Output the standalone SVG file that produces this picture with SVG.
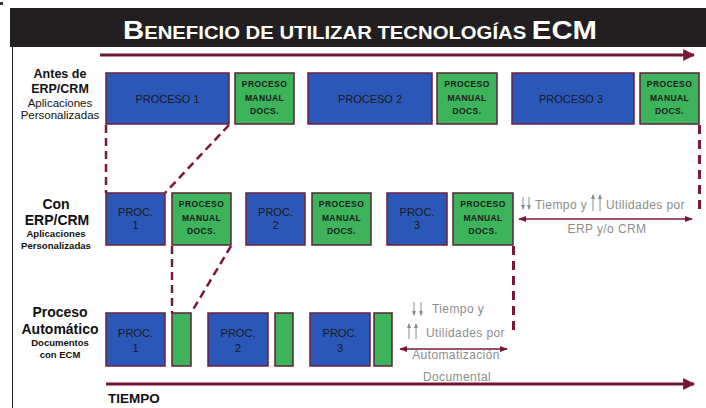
<svg xmlns="http://www.w3.org/2000/svg" width="706" height="408" viewBox="0 0 706 408">
<defs>
<marker id="ah" viewBox="0 0 10 10" refX="9" refY="5" markerWidth="4" markerHeight="4" orient="auto-start-reverse"><path d="M0,0 L10,5 L0,10 z" fill="#7a1838"/></marker>
<marker id="ahs" viewBox="0 0 10 10" refX="9" refY="5" markerWidth="5" markerHeight="5" orient="auto-start-reverse"><path d="M0,1 L10,5 L0,9 z" fill="#7a1838"/></marker>
<marker id="ga" viewBox="0 0 10 10" refX="8" refY="5" markerWidth="5" markerHeight="5" orient="auto"><path d="M0,1 L10,5 L0,9 z" fill="#8c8c8c"/></marker>
</defs>
<style>
.blue{fill:#2b58b8;stroke:#6b1f3f;stroke-width:1.5}
.green{fill:#3db45c;stroke:#5a2235;stroke-width:1.5}
.bt{font-family:"Liberation Sans",Arial,sans-serif;font-size:11px;fill:#1a1a1a;text-anchor:middle}
.gt{font-family:"Liberation Sans",Arial,sans-serif;font-size:8.5px;font-weight:bold;fill:#1a1a1a;text-anchor:middle;letter-spacing:0.4px}
.lb{font-family:"Liberation Sans",Arial,sans-serif;font-weight:bold;fill:#111;text-anchor:middle}
.lr{font-family:"Liberation Sans",Arial,sans-serif;fill:#111;text-anchor:middle}
.gray{font-family:"Liberation Sans",Arial,sans-serif;font-size:12px;fill:#8c8c8c;letter-spacing:0.4px}
.dash{fill:none;stroke:#7a1838;stroke-width:2.5;stroke-dasharray:8,5}
.dashv{fill:none;stroke:#7a1838;stroke-width:3;stroke-dasharray:9,6}
.axis{fill:none;stroke:#6e1633;stroke-width:3}
.darr{fill:none;stroke:#7a1838;stroke-width:1.6}
.garr{fill:none;stroke:#8c8c8c;stroke-width:1}
</style>
<rect x="0" y="0" width="706" height="408" fill="#ffffff"/>
<rect x="0" y="2" width="3" height="3" fill="#333"/>
<g id="title">
<rect x="10" y="8" width="696" height="39" fill="#231f20"/>
<text x="360" y="39" text-anchor="middle" font-family="Liberation Sans,Arial,sans-serif" font-weight="bold" fill="#ffffff" textLength="474" lengthAdjust="spacingAndGlyphs"><tspan font-size="26">B</tspan><tspan font-size="18">ENEFICIO DE UTILIZAR TECNOLOGÍAS </tspan><tspan font-size="26">ECM</tspan></text>
</g>
<line x1="12.5" y1="47" x2="12.5" y2="408" stroke="#222" stroke-width="1"/>

<g id="labels">
<text class="lb" x="60" y="78" font-size="12.5">Antes de</text>
<text class="lb" x="60" y="93" font-size="12.5">ERP/CRM</text>
<text class="lr" x="60" y="107" font-size="11.5">Aplicaciones</text>
<text class="lr" x="60" y="119" font-size="11.5">Personalizadas</text>
<text class="lb" x="56" y="209" font-size="14">Con</text>
<text class="lb" x="57" y="225" font-size="14">ERP/CRM</text>
<text class="lb" x="56" y="237" font-size="9.6">Aplicaciones</text>
<text class="lb" x="56" y="249" font-size="9.6">Personalizadas</text>
<text class="lb" x="60" y="317" font-size="14">Proceso</text>
<text class="lb" x="60" y="334" font-size="14">Automático</text>
<text class="lb" x="60" y="346" font-size="9.5">Documentos</text>
<text class="lb" x="60" y="358" font-size="9.5">con ECM</text>
<text class="lb" x="108" y="403" font-size="13.5" style="text-anchor:start">TIEMPO</text>
</g>

<g id="row1">
<g id="r1-p1"><rect class="blue" x="106" y="73" width="123" height="51"/><text class="bt" x="167.5" y="103">PROCESO 1</text></g>
<g id="r1-m1"><rect class="green" x="235" y="73" width="59" height="51"/><text class="gt" x="264.5" y="87">PROCESO</text><text class="gt" x="264.5" y="101">MANUAL</text><text class="gt" x="264.5" y="114">DOCS.</text></g>
<g id="r1-p2"><rect class="blue" x="308" y="73" width="124" height="51"/><text class="bt" x="370" y="103">PROCESO 2</text></g>
<g id="r1-m2"><rect class="green" x="437" y="73" width="60" height="51"/><text class="gt" x="467" y="87">PROCESO</text><text class="gt" x="467" y="101">MANUAL</text><text class="gt" x="467" y="114">DOCS.</text></g>
<g id="r1-p3"><rect class="blue" x="512" y="73" width="122" height="51"/><text class="bt" x="571" y="103">PROCESO 3</text></g>
<g id="r1-m3"><rect class="green" x="640" y="73" width="59" height="51"/><text class="gt" x="669.5" y="87">PROCESO</text><text class="gt" x="669.5" y="101">MANUAL</text><text class="gt" x="669.5" y="114">DOCS.</text></g>
</g>

<g id="row2">
<g id="r2-p1"><rect class="blue" x="106" y="193" width="59" height="52"/><text class="bt" x="135.5" y="216" font-size="11.5">PROC.</text><text class="bt" x="135.5" y="229" font-size="11.5">1</text></g>
<g id="r2-m1"><rect class="green" x="172" y="193" width="59" height="52"/><text class="gt" x="201.5" y="207">PROCESO</text><text class="gt" x="201.5" y="221">MANUAL</text><text class="gt" x="201.5" y="234">DOCS.</text></g>
<g id="r2-p2"><rect class="blue" x="246" y="193" width="59" height="52"/><text class="bt" x="275.5" y="216" font-size="11.5">PROC.</text><text class="bt" x="275.5" y="229" font-size="11.5">2</text></g>
<g id="r2-m2"><rect class="green" x="312" y="193" width="59" height="52"/><text class="gt" x="341.5" y="207">PROCESO</text><text class="gt" x="341.5" y="221">MANUAL</text><text class="gt" x="341.5" y="234">DOCS.</text></g>
<g id="r2-p3"><rect class="blue" x="387" y="193" width="60" height="52"/><text class="bt" x="417" y="216" font-size="11.5">PROC.</text><text class="bt" x="417" y="229" font-size="11.5">3</text></g>
<g id="r2-m3"><rect class="green" x="453" y="193" width="60" height="52"/><text class="gt" x="483" y="207">PROCESO</text><text class="gt" x="483" y="221">MANUAL</text><text class="gt" x="483" y="234">DOCS.</text></g>
</g>

<g id="row3">
<g id="r3-p1"><rect class="blue" x="106" y="313" width="59" height="53"/><text class="bt" x="135.5" y="337" font-size="12">PROC.</text><text class="bt" x="135.5" y="352" font-size="12">1</text></g>
<g id="r3-m1"><rect class="green" x="172" y="313" width="19" height="53"/></g>
<g id="r3-p2"><rect class="blue" x="208" y="313" width="60" height="53"/><text class="bt" x="238" y="337" font-size="12">PROC.</text><text class="bt" x="238" y="352" font-size="12">2</text></g>
<g id="r3-m2"><rect class="green" x="275" y="313" width="18" height="53"/></g>
<g id="r3-p3"><rect class="blue" x="310" y="313" width="60" height="53"/><text class="bt" x="340" y="337" font-size="12">PROC.</text><text class="bt" x="340" y="352" font-size="12">3</text></g>
<g id="r3-m3"><rect class="green" x="374" y="313" width="18" height="53"/></g>
</g>

<g id="connectors">
<line class="axis" x1="100" y1="55" x2="694" y2="55" marker-end="url(#ah)"/>
<line class="axis" x1="106" y1="384" x2="694" y2="384" marker-end="url(#ah)"/>
<line class="dash" x1="106" y1="125" x2="106" y2="193"/>
<line class="dash" x1="229" y1="125" x2="165" y2="193"/>
<line class="dash" x1="172" y1="246" x2="172" y2="313"/>
<line class="dash" x1="231" y1="246" x2="191" y2="313"/>
<line class="dashv" x1="699.5" y1="125" x2="699.5" y2="213"/>
<line class="dashv" x1="513.5" y1="246" x2="513.5" y2="336"/>
<line class="darr" x1="519" y1="219" x2="692" y2="219" marker-start="url(#ahs)" marker-end="url(#ahs)"/>
<line class="darr" x1="400" y1="349" x2="507" y2="349" marker-start="url(#ahs)" marker-end="url(#ahs)"/>
</g>

<g id="annot-erp">
<line class="garr" x1="523" y1="197" x2="523" y2="209" marker-end="url(#ga)"/>
<line class="garr" x1="529" y1="197" x2="529" y2="209" marker-end="url(#ga)"/>
<text class="gray" x="535" y="209">Tiempo y</text>
<line class="garr" x1="593" y1="211" x2="593" y2="195" marker-end="url(#ga)"/>
<line class="garr" x1="600" y1="211" x2="600" y2="195" marker-end="url(#ga)"/>
<text class="gray" x="606" y="209">Utilidades por</text>
<text class="gray" x="607" y="233" text-anchor="middle">ERP y/o CRM</text>
</g>

<g id="annot-ecm">
<line class="garr" x1="414" y1="302" x2="414" y2="315" marker-end="url(#ga)"/>
<line class="garr" x1="421" y1="302" x2="421" y2="315" marker-end="url(#ga)"/>
<text class="gray" x="432" y="313">Tiempo y</text>
<line class="garr" x1="409" y1="339" x2="409" y2="324" marker-end="url(#ga)"/>
<line class="garr" x1="416" y1="339" x2="416" y2="324" marker-end="url(#ga)"/>
<text class="gray" x="426" y="337">Utilidades por</text>
<text class="gray" x="456" y="359" text-anchor="middle">Automatización</text>
<text class="gray" x="457" y="381" text-anchor="middle">Documental</text>
</g>
</svg>
